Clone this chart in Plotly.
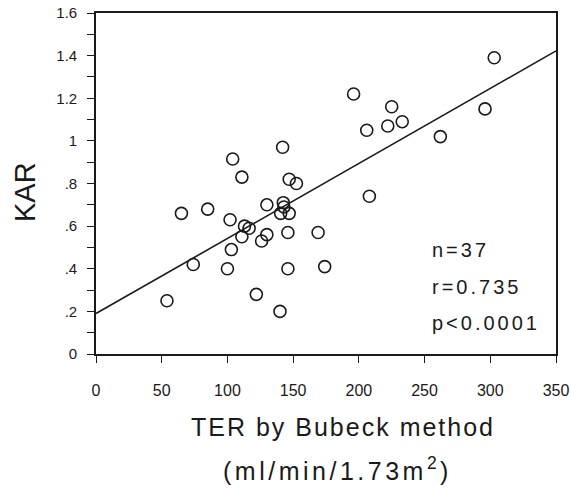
import plotly.graph_objects as go

# Data
ter = [54, 65, 85, 74, 102, 103, 100, 113, 116.5, 111, 130, 130, 126, 122,
       142.5, 143, 140.5, 147, 146, 146, 140, 169, 174, 111, 104, 142, 147,
       152.5, 196, 303, 225, 206, 222, 233, 262, 296, 208]
kar = [0.25, 0.66, 0.68, 0.42, 0.63, 0.49, 0.40, 0.60, 0.59, 0.55, 0.70, 0.56,
       0.53, 0.28, 0.71, 0.69, 0.66, 0.66, 0.57, 0.40, 0.20, 0.57, 0.41, 0.83,
       0.915, 0.97, 0.82, 0.80, 1.22, 1.39, 1.16, 1.05, 1.07, 1.09, 1.02, 1.15,
       0.74]
fit_intercept = 0.19
fit_slope = 0.00352
fit_x = [0, 350]

x_tickvals = [0, 50, 100, 150, 200, 250, 300, 350]
x_ticktext = ["0", "50", "100", "150", "200", "250", "300", "350"]
y_tickvals = [0, 0.2, 0.4, 0.6, 0.8, 1.0, 1.2, 1.4, 1.6]
y_ticktext = ["0", ".2", ".4", ".6", ".8", "1", "1.2", "1.4", "1.6"]
y_minorvals = [0.1, 0.3, 0.5, 0.7, 0.9, 1.1, 1.3, 1.5]
stats = ["n=37", "r=0.735", "p<0.0001"]

FONT = "Liberation Sans, Arial, sans-serif"
INK = "#1a1a1a"

def spaced(s, px):
    return f'<span style="letter-spacing:{px}px">{s}</span>'

fig = go.Figure()
fig.add_trace(go.Scatter(
    x=fit_x, y=[fit_intercept + fit_slope * v for v in fit_x],
    mode="lines", line=dict(color=INK, width=1.6), showlegend=False, hoverinfo="skip"))
fig.add_trace(go.Scatter(
    x=ter, y=kar, mode="markers",
    marker=dict(symbol="circle-open", size=12, color=INK, line=dict(width=1.6)),
    showlegend=False))

fig.update_xaxes(
    range=[0, 350], tickvals=x_tickvals, ticktext=x_ticktext,
    ticks="outside", ticklen=7, tickwidth=1.4, tickcolor=INK,
    showline=True, linecolor=INK, linewidth=1.6, mirror=True,
    showgrid=False, zeroline=False, ticklabelstandoff=14, automargin=False,
    tickfont=dict(family=FONT, size=16, color=INK))
fig.update_yaxes(
    range=[0, 1.6], tickvals=y_tickvals, ticktext=y_ticktext,
    ticks="outside", ticklen=7, tickwidth=1.4, tickcolor=INK,
    minor=dict(tickvals=y_minorvals, ticks="outside", ticklen=7, tickwidth=1.4,
               tickcolor=INK, showgrid=False),
    showline=True, linecolor=INK, linewidth=1.6, mirror=True,
    showgrid=False, zeroline=False, ticklabelstandoff=7, automargin=False,
    tickfont=dict(family=FONT, size=15, color=INK))

fig.add_annotation(xref="paper", yref="paper", x=(25 - 96) / 460.0, xanchor="center",
                   y=(354 - 192) / 341.0, yanchor="middle",
                   text="KAR", showarrow=False, textangle=-90,
                   font=dict(family=FONT, size=29, color=INK))
fig.add_annotation(xref="paper", yref="paper", x=(343 - 96) / 460.0, xanchor="center",
                   y=(354 - 427) / 341.0, yanchor="middle",
                   text=spaced("TER by Bubeck method", 2), showarrow=False,
                   font=dict(family=FONT, size=25, color=INK))
fig.add_annotation(xref="paper", yref="paper", x=(337 - 96) / 460.0, xanchor="center",
                   y=(354 - 469) / 341.0, yanchor="middle",
                   text=spaced("(ml/min/1.73m<sup>2</sup>)", 3.5), showarrow=False,
                   font=dict(family=FONT, size=25, color=INK))
for i, s in enumerate(stats):
    fig.add_annotation(xref="paper", yref="paper", x=(430 - 96) / 460.0, xanchor="left",
                       y=(354 - [250, 287, 323][i]) / 341.0, yanchor="middle",
                       text=spaced(s, 3), showarrow=False,
                       font=dict(family=FONT, size=20, color=INK))

fig.update_layout(
    width=571, height=491,
    margin=dict(l=96, r=15, t=13, b=137, autoexpand=False),
    paper_bgcolor="white", plot_bgcolor="white",
    font=dict(family=FONT, color=INK))

fig.write_html("out.html")
